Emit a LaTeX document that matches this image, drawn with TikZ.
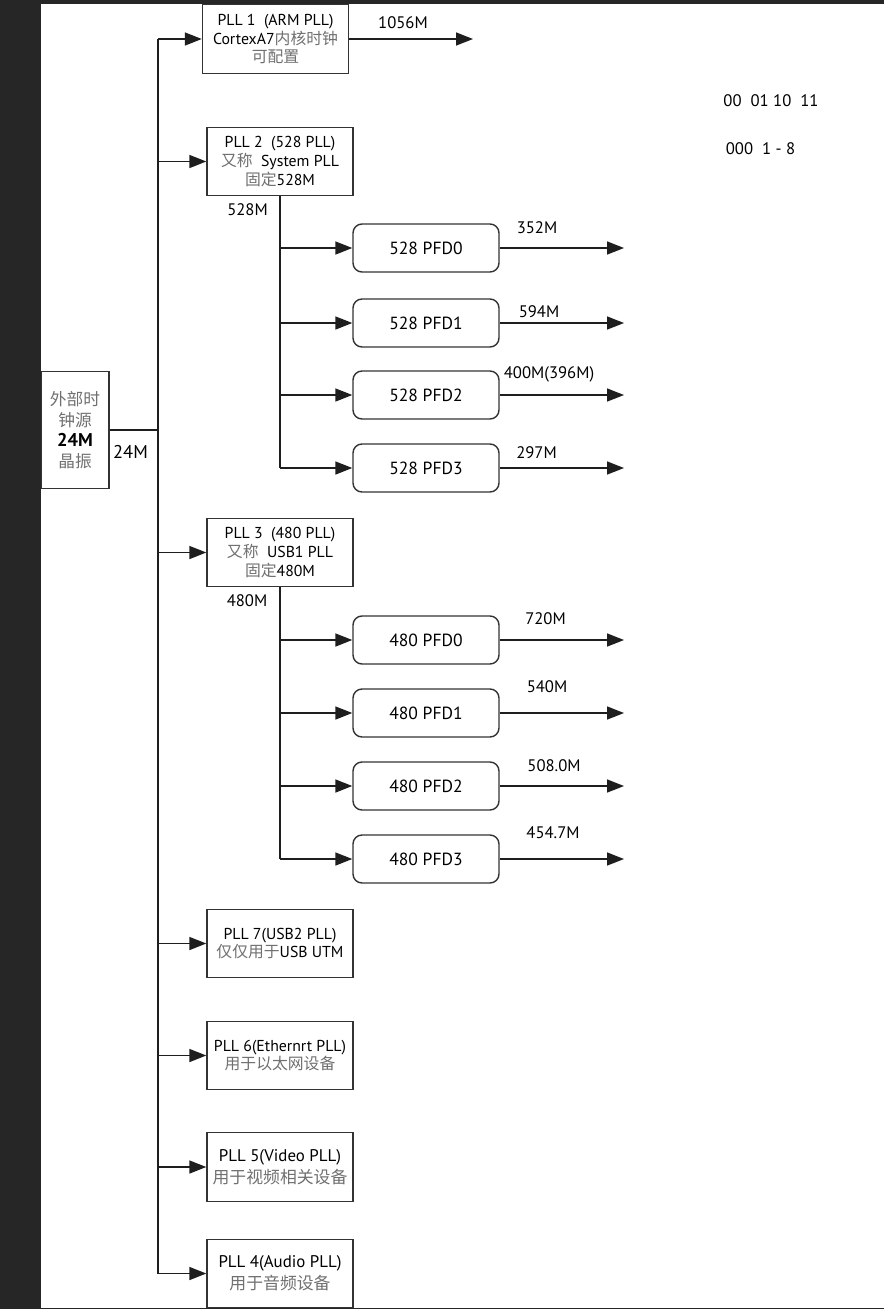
\documentclass[tikz,border=0pt]{standalone}
\usepackage{fontspec}
\setmainfont{PT Sans}
\newfontfamily\cjk{Noto Sans CJK SC}
\usetikzlibrary{arrows.meta, positioning}
\definecolor{frameDark}{HTML}{262626}
\definecolor{lineDark}{HTML}{1E1E1E}
\definecolor{boxEdge}{HTML}{333333}
\definecolor{zhGray}{HTML}{707070}
\newcommand{\zh}[1]{{\cjk\color{zhGray}#1}}
\tikzset{
  pllbox/.style={draw=boxEdge, line width=0.8pt, align=center, inner sep=1pt,
    minimum width=29.2mm, minimum height=13.7mm, font=\fontsize{9}{10.6}\selectfont},
  bigpll/.style={pllbox, font=\fontsize{9.6}{12.5}\selectfont},
  pfdbox/.style={draw=boxEdge, line width=0.8pt, rounded corners=1.8mm,
    minimum width=29.2mm, minimum height=9.6mm, font=\fontsize{10}{12}\selectfont},
  srcbox/.style={draw=boxEdge, line width=0.8pt, align=center, inner sep=1pt,
    minimum width=13.6mm, minimum height=23.4mm, font=\fontsize{9.5}{11.7}\selectfont},
  freq/.style={font=\fontsize{9.5}{11}\selectfont, inner sep=0pt},
  wire/.style={lineDark, line width=0.9pt},
  flowarr/.style={-{Triangle[length=3.4mm, width=2.6mm]}, lineDark, line width=0.9pt},
}
\begin{document}
\begin{tikzpicture}[x=0.2mm, y=-0.2mm]
  \useasboundingbox (0,0) rectangle (884,1309);
  \fill[white] (0,0) rectangle (884,1309);

  % crystal and main bus
  \node[srcbox] (src) at (75,430)
    {\zh{外部时}\\\zh{钟源}\\{\fontsize{10.5}{11.7}\selectfont\bfseries 24M}\\\zh{晶振}};
  \node[freq, font=\fontsize{10.5}{12}\selectfont] (f24) at (130.5,452) {24M};
  \coordinate (bus) at (158,430);

  \node[pllbox] (pll1) at (275.5,39) {PLL 1\ \ (ARM PLL)\\CortexA7\zh{内核时钟}\\\zh{可配置}};
  \node[pllbox] (pll2) at (280,161.5) {PLL 2\ \ (528 PLL)\\\zh{又称}\ \ System PLL\\\zh{固定}528M};
  \node[pllbox] (pll3) at (280,552.5) {PLL 3\ \ (480 PLL)\\\zh{又称}\ \ USB1 PLL\\\zh{固定}480M};
  \node[pllbox] (pll7) at (280,943.5) {PLL 7(USB2 PLL)\\\zh{仅仅用于}USB UTM};
  \node[pllbox] (pll6) at (280,1055.5) {PLL 6(Ethernrt PLL)\\\zh{用于以太网设备}};
  \node[bigpll] (pll5) at (280,1167) {PLL 5(Video PLL)\\\zh{用于视频相关设备}};
  \node[bigpll] (pll4) at (280,1273.5) {PLL 4(Audio PLL)\\\zh{用于音频设备}};

  \draw[wire] (src.east) -- (bus);
  \draw[wire] (bus |- pll1.west) -- (bus |- pll4.west);
  \foreach \p in {pll1,pll2,pll3,pll7,pll6,pll5,pll4}
    \draw[flowarr] (bus |- \p.west) -- (\p.west);

  \coordinate (out1) at (473,39);
  \draw[flowarr] (pll1.east) -- (out1);
  \node[freq] (f1056) at (403,23) {1056M};

  % 528 PFDs
  \node[freq] (f528) at (247.5,210) {528M};
  \draw[wire] (pll2.south) -- (pll2.south |- 0,468);
  \foreach \n/\y/\f/\lx/\ly in {0/248/352M/537/228, 1/323/594M/539/312,
      2/395/400M(396M)/549/374, 3/468/297M/536.5/453} {
    \node[pfdbox] (a\n) at (426,\y) {528 PFD\n};
    \coordinate (ao\n) at (624,\y);
    \draw[flowarr] (pll2.south |- a\n.west) -- (a\n.west);
    \draw[flowarr] (a\n.east) -- (ao\n);
    \node[freq] (fa\n) at (\lx,\ly) {\f};
  }

  % 480 PFDs
  \node[freq] (f480) at (247,601) {480M};
  \draw[wire] (pll3.south) -- (pll3.south |- 0,859);
  \foreach \n/\y/\f/\lx/\ly in {0/640/720M/545.5/619, 1/713/540M/547/687,
      2/786/508.0M/554/766, 3/859/454.7M/553/833} {
    \node[pfdbox] (b\n) at (426,\y) {480 PFD\n};
    \coordinate (bo\n) at (624,\y);
    \draw[flowarr] (pll3.south |- b\n.west) -- (b\n.west);
    \draw[flowarr] (b\n.east) -- (bo\n);
    \node[freq] (fb\n) at (\lx,\ly) {\f};
  }

  \node[freq] (sel2) at (771,101) {00\ \ 01 10\ \ 11};
  \node[freq] (sel3) at (760.5,149) {000\ \ 1 - 8};

  % window frame
  \fill[frameDark] (0,0) rectangle (41,1309);
  \fill[frameDark] (0,0) rectangle (884,4);
  \fill[frameDark] (41,1307.5) rectangle (884,1309);
\end{tikzpicture}
\end{document}
